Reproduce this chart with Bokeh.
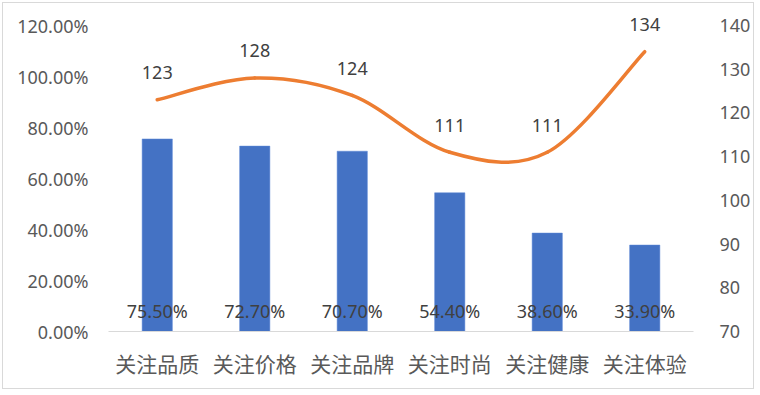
import numpy as np
from bokeh.plotting import figure
from bokeh.models import Range1d, LinearAxis, FixedTicker, PrintfTickFormatter, ColumnDataSource
from bokeh.core.properties import value
from bokeh.embed import file_html
from bokeh.resources import INLINE

categories = ["关注品质", "关注价格", "关注品牌", "关注时尚", "关注健康", "关注体验"]
shares = [75.5, 72.7, 70.7, 54.4, 38.6, 33.9]
share_labels = ["75.50%", "72.70%", "70.70%", "54.40%", "38.60%", "33.90%"]
index_values = [123, 128, 124, 111, 111, 134]
left_ticks = [0, 20, 40, 60, 80, 100, 120]
right_ticks = [70, 80, 90, 100, 110, 120, 130, 140]

n = len(categories)
xs = np.arange(n) + 0.5

# plot area spans 0..120 (left) / 70..140 (right) over 306 px; 20 px of headroom above
HEAD = 20.0 / 306.0
p = figure(width=752, height=387, output_backend="svg", toolbar_location=None,
           x_range=Range1d(0, n), y_range=Range1d(0, 120 * (1 + HEAD)),
           min_border_left=105, min_border_right=62, min_border_top=2, min_border_bottom=59,
           styles={"border": "1px solid #d9d9d9", "margin-left": "2px", "margin-top": "2px"})
p.extra_y_ranges = {"right": Range1d(70, 140 + 70 * HEAD)}
p.outline_line_color = None
p.xgrid.visible = False
p.ygrid.visible = False
p.background_fill_color = "white"
p.border_fill_color = "white"

NUM_FONT = "Noto Sans"
CJK_FONT = "Noto Sans CJK SC"

# x axis
xa = p.xaxis[0]
xa.ticker = FixedTicker(ticks=list(xs))
xa.major_label_overrides = {float(x): c for x, c in zip(xs, categories)}
xa.axis_line_color = "#d9d9d9"
xa.axis_line_width = 1
xa.major_tick_line_color = None
xa.minor_tick_line_color = None
xa.major_label_text_font = CJK_FONT
xa.major_label_text_font_size = "21px"
xa.major_label_text_color = "#595959"
xa.major_label_standoff = 10

# left axis
ya = p.yaxis[0]
ya.ticker = FixedTicker(ticks=left_ticks)
ya.formatter = PrintfTickFormatter(format="%.2f%%")
ya.axis_line_color = None
ya.major_tick_line_color = None
ya.minor_tick_line_color = None
ya.major_label_text_font = NUM_FONT
ya.major_label_text_font_size = "18px"
ya.major_label_text_color = "#595959"
ya.major_label_standoff = 14

# right axis
ra = LinearAxis(y_range_name="right", ticker=FixedTicker(ticks=right_ticks))
ra.axis_line_color = None
ra.major_tick_line_color = None
ra.minor_tick_line_color = None
ra.major_label_text_font = NUM_FONT
ra.major_label_text_font_size = "18px"
ra.major_label_text_color = "#595959"
ra.major_label_standoff = 20
p.add_layout(ra, "right")

# bars
bar_src = ColumnDataSource(dict(x=xs, top=shares, label=share_labels, base=[0] * n))
p.vbar(x="x", top="top", width=0.31, source=bar_src, fill_color="#4472C4",
       line_color="#5b86d6", line_width=0.5)
p.text(x="x", y="base", text="label", source=bar_src, text_align="center",
       text_baseline="middle", y_offset=-21, text_font=value(NUM_FONT),
       text_font_size="18px", text_color="#404040")

# smoothed line (Catmull-Rom bezier through the data points)
P = np.column_stack([xs, np.array(index_values, dtype=float)])
prev = np.vstack([P[0], P[:-1]])
nxt = np.vstack([P[1:], P[-1]])
m = (nxt - prev) / 2.0
c0 = P[:-1] + m[:-1] / 3.0
c1 = P[1:] - m[1:] / 3.0
bz = ColumnDataSource(dict(x0=P[:-1, 0], y0=P[:-1, 1], x1=P[1:, 0], y1=P[1:, 1],
                           cx0=c0[:, 0], cy0=c0[:, 1], cx1=c1[:, 0], cy1=c1[:, 1]))
p.bezier(x0="x0", y0="y0", x1="x1", y1="y1", cx0="cx0", cy0="cy0", cx1="cx1", cy1="cy1",
         source=bz, y_range_name="right", line_color="#ED7D31", line_width=3.5,
         line_cap="round")

line_src = ColumnDataSource(dict(x=xs, y=index_values, label=[str(v) for v in index_values]))
p.text(x="x", y="y", text="label", source=line_src, y_range_name="right",
       text_align="center", text_baseline="middle", y_offset=-27,
       text_font=value(NUM_FONT), text_font_size="18px", text_color="#404040")

open("out.html", "w").write(file_html(p, INLINE))
